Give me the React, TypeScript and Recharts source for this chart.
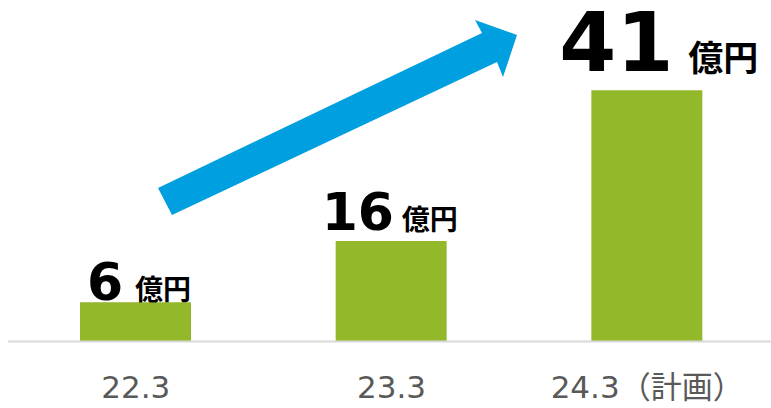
import React from "react";
import { BarChart, Bar, XAxis, YAxis, Cell } from "recharts";

const CATEGORIES = ["22.3", "23.3", "24.3（計画）"];
const VALUES = [6.4, 16.4, 41];
const VALUE_LABELS = ["6", "16", "41"];
const UNIT = "億円";

const BAR_COLOR = "#93B82A";
const ARROW_COLOR = "#009FDF";

// per-bar label look (sizes + offsets from the bar's top-left corner)
const LABEL_STYLE = [
  { numSize: 52, unitSize: 28, numDx: 7, unitDx: 55, baseDy: -2 },
  { numSize: 52, unitSize: 28, numDx: -14, unitDx: 66, baseDy: -11 },
  { numSize: 82, unitSize: 35, numDx: -32, unitDx: 97, baseDy: -19 },
];

const chartData = CATEGORIES.map((name, i) => ({
  name,
  value: VALUES[i],
  label: VALUE_LABELS[i],
}));

const ValueLabel = (props: any) => {
  const { x, y, index } = props;
  const s = LABEL_STYLE[index];
  const base = Number(y) + s.baseDy;
  return (
    <g>
      <text
        x={Number(x) + s.numDx}
        y={base}
        fontFamily="'DejaVu Sans', sans-serif"
        fontWeight={700}
        fontSize={s.numSize}
        fill="#000"
      >
        {VALUE_LABELS[index]}
      </text>
      <text
        x={Number(x) + s.unitDx}
        y={base}
        fontFamily="'Noto Sans CJK JP', sans-serif"
        fontWeight={700}
        fontSize={s.unitSize}
        fill="#000"
      >
        {UNIT}
      </text>
    </g>
  );
};

const CategoryTick = (props: any) => {
  const { x, y, payload } = props;
  return (
    <text
      x={x}
      y={y}
      dy={56}
      textAnchor="middle"
      fontFamily="'DejaVu Sans', 'Noto Sans CJK JP', sans-serif"
      fontSize={31}
      fill="#595959"
    >
      {payload.value}
    </text>
  );
};

export default function App() {
  return (
    <div style={{ position: "absolute", left: 0, top: 0, width: 771, height: 408, background: "#fff", overflow: "hidden" }}>
      <BarChart
        width={771}
        height={408}
        data={chartData}
        margin={{ top: 35, right: -4, bottom: 0, left: 8 }}
        barCategoryGap={0}
      >
        <XAxis
          dataKey="name"
          axisLine={{ stroke: "#D9D9D9", strokeWidth: 2 }}
          tickLine={false}
          tickSize={0}
          tickMargin={0}
          height={66.5}
          interval={0}
          tick={<CategoryTick />}
        />
        <YAxis hide domain={[0, 50]} />
        <Bar dataKey="value" barSize={111} isAnimationActive={false} label={<ValueLabel />}>
          {chartData.map((_, i) => (
            <Cell key={`c-${i}`} fill={BAR_COLOR} />
          ))}
        </Bar>
      </BarChart>
      {/* growth arrow annotation */}
      <svg width={771} height={408} style={{ position: "absolute", left: 0, top: 0, pointerEvents: "none" }}>
        <polygon
          points="158,188 482,33 475,20 517,35 503,77 497,62 172,215"
          fill={ARROW_COLOR}
        />
      </svg>
    </div>
  );
}
